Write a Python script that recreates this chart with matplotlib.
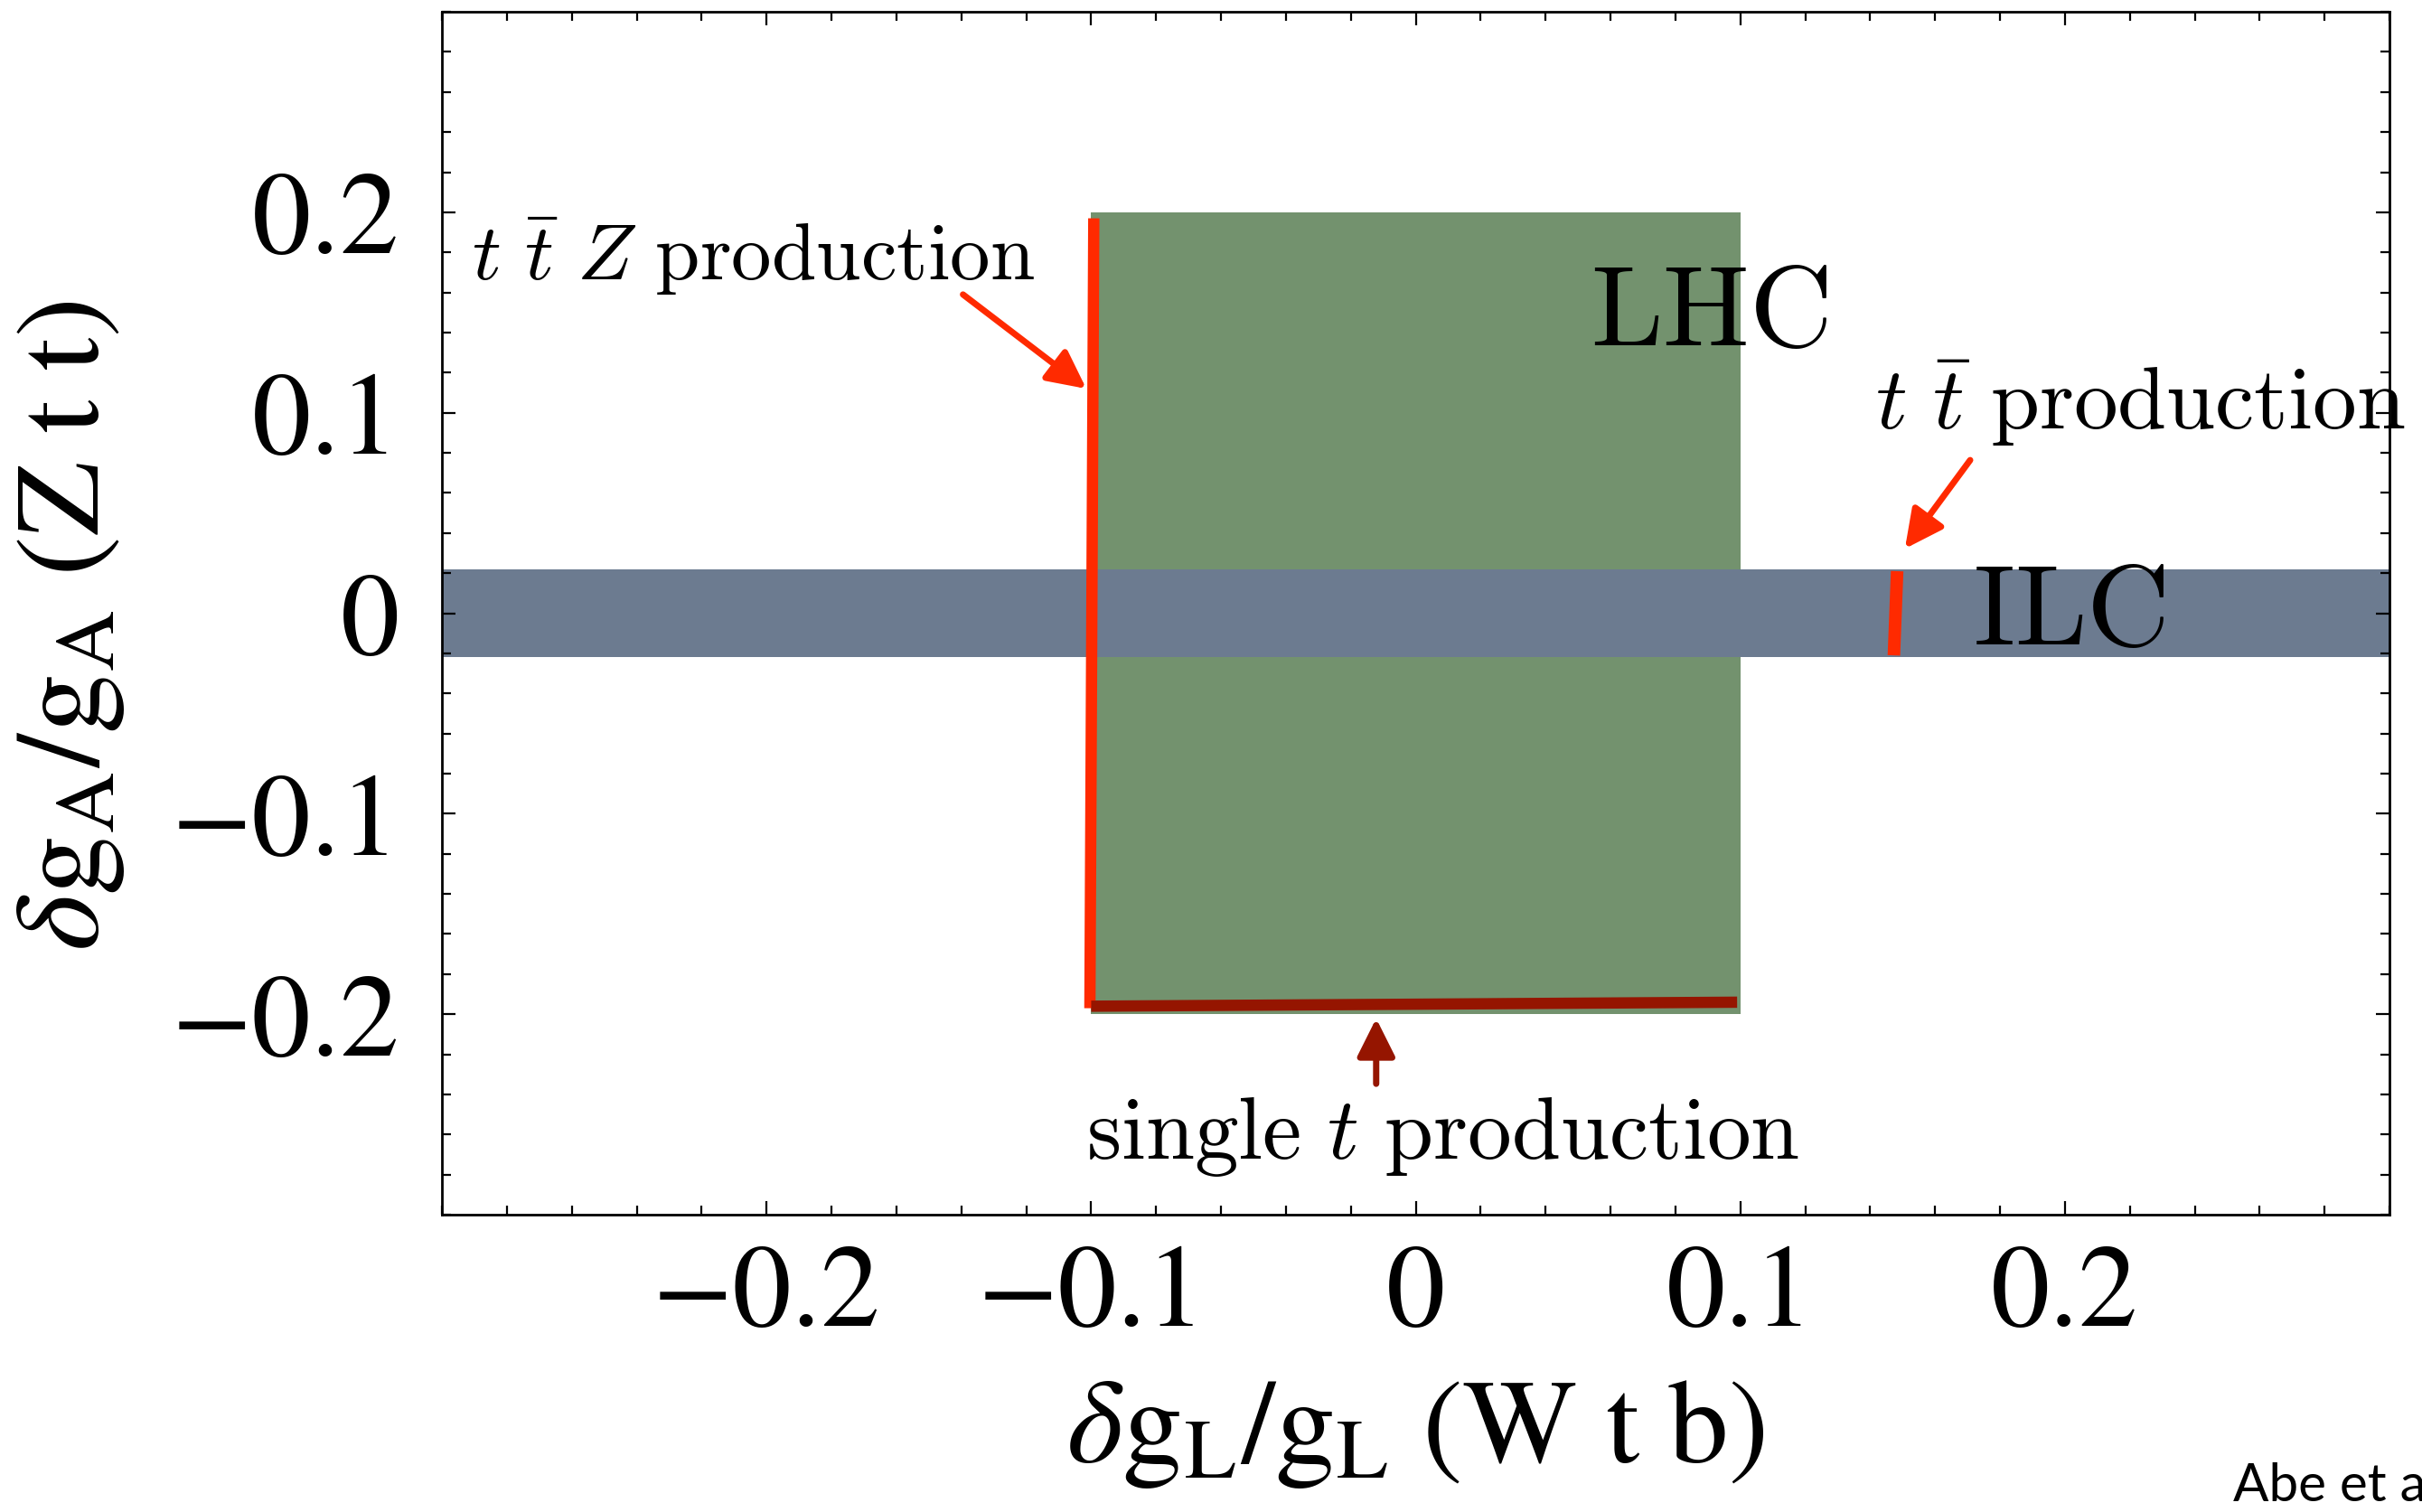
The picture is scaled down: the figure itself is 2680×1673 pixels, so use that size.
import numpy as np
import matplotlib
matplotlib.use("Agg")
import matplotlib.pyplot as plt
from matplotlib.ticker import MultipleLocator, FuncFormatter

# ---- data ----
x_range = (-0.3, 0.3)
y_range = (-0.3, 0.3)
major_ticks = [-0.2, -0.1, 0.0, 0.1, 0.2]

ilc_band = (-0.022, 0.022)          # delta gA/gA band from ILC
lhc_x = (-0.1, 0.1)                 # LHC box
lhc_y = (-0.2, 0.2)

ttz_x = [-0.0992, -0.1004]          # t tbar Z constraint line
ttz_y = [0.197, -0.197]
single_t_x = [-0.100, 0.099]        # single t constraint line
single_t_y = [-0.196, -0.194]
tt_x = [0.1483, 0.1473]             # t tbar at ILC
tt_y = [0.021, -0.021]

# arrows: (tail, tip)
ttz_arrow = ((-0.1395, 0.159), (-0.1015, 0.112))
tt_arrow = ((0.1708, 0.0764), (0.1507, 0.0322))
single_arrow = ((-0.0122, -0.2347), (-0.0122, -0.2021))

green = "#73926e"
slate = "#6c7b90"
red = "#ff2a00"
darkred = "#951500"

plt.rcParams["mathtext.fontset"] = "stix"
plt.rcParams["font.family"] = "STIXGeneral"

fig = plt.figure(figsize=(13.4, 8.37), dpi=200)
ax = fig.add_axes([0.1825, 0.1965, 0.8041, 0.7951])

ax.axhspan(ilc_band[0], ilc_band[1], color=slate, lw=0, zorder=1)
ax.fill_between(lhc_x, lhc_y[0], lhc_y[1], color=green, lw=0, zorder=0.9)

ax.plot(ttz_x, ttz_y, color=red, lw=4.5, solid_capstyle="butt", zorder=3)
ax.plot(single_t_x, single_t_y, color=darkred, lw=4.5, solid_capstyle="butt", zorder=3)
ax.plot(tt_x, tt_y, color=red, lw=5, solid_capstyle="butt", zorder=3)

for (tail, tip), c in [(ttz_arrow, red), (tt_arrow, red), (single_arrow, darkred)]:
    ax.annotate("", xy=tip, xytext=tail,
                arrowprops=dict(arrowstyle="-|>", color=c, lw=2.5,
                                mutation_scale=32, shrinkA=0, shrinkB=0),
                zorder=4)

cm = dict(math_fontfamily="cm", color="black", zorder=5)
ax.text(-0.2908, 0.1665, r"$t\ \bar{t}\ Z\ \mathrm{production}$", fontsize=32,
        ha="left", va="baseline", **cm)
ax.text(0.1415, 0.0924, r"$t\ \bar{t}\ \mathrm{production}$", fontsize=35,
        ha="left", va="baseline", clip_on=False, **cm)
ax.text(-0.1015, -0.2717, r"$\mathrm{single}\ t\ \mathrm{production}$", fontsize=35,
        ha="left", va="baseline", **cm)
ax.text(0.0538, 0.1337, r"$\mathrm{LHC}$", fontsize=46, ha="left", va="baseline", **cm)
ax.text(0.1716, -0.0156, r"$\mathrm{ILC}$", fontsize=46, ha="left", va="baseline", **cm)

ax.set_xlim(*x_range)
ax.set_ylim(*y_range)
ax.set_xticks(major_ticks)
ax.set_yticks(major_ticks)
ax.xaxis.set_minor_locator(MultipleLocator(0.02))
ax.yaxis.set_minor_locator(MultipleLocator(0.02))


def fmt(v, pos):
    if abs(v) < 1e-9:
        return "0"
    return ("\u2212" if v < 0 else "") + f"{abs(v):.1f}"


ax.xaxis.set_major_formatter(FuncFormatter(fmt))
ax.yaxis.set_major_formatter(FuncFormatter(fmt))
ax.tick_params(which="both", direction="in", top=True, right=True, width=0.8)
ax.tick_params(which="major", length=5.5, labelsize=47)
ax.tick_params(which="minor", length=3.5)
ax.tick_params(axis="x", pad=12)
ax.tick_params(axis="y", pad=17)
for sp in ax.spines.values():
    sp.set_linewidth(1.0)

ax.set_xlabel(r"$\delta\mathrm{g}_\mathrm{L}/\mathrm{g}_\mathrm{L}\ (\mathrm{W\ t\ b})$", fontsize=48)
ax.set_ylabel(r"$\delta\mathrm{g}_\mathrm{A}/\mathrm{g}_\mathrm{A}\ (\mathrm{Z\ t\ t})$", fontsize=48)
ax.xaxis.set_label_coords(0.5, -0.135)
ax.yaxis.set_label_coords(-0.219, 0.49)
ax.yaxis.label.set_va("top")

fig.text(0.922, 0.008, "Abe et al.", fontsize=21, family="Lato", ha="left", va="baseline")

fig.savefig("out.png", dpi=200)
